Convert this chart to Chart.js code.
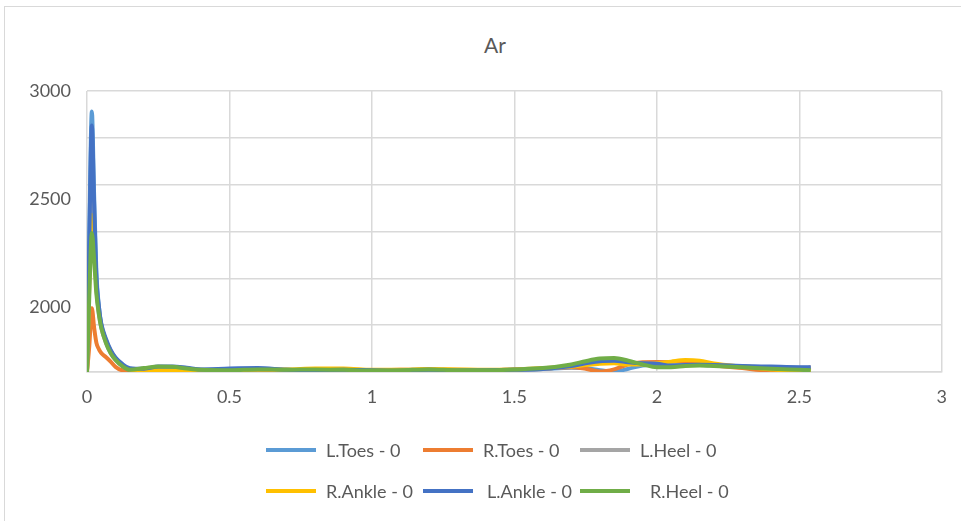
<!DOCTYPE html>
<html>
<head>
<meta charset="utf-8">
<script src="https://cdn.jsdelivr.net/npm/chart.js@4"></script>
<style>
  html, body { margin: 0; padding: 0; background: #fff; }
  #wrap { position: relative; width: 961px; height: 521px; overflow: hidden; }
  #frame { position: absolute; left: 4px; top: 6px; width: 1000px; height: 600px;
           border-left: 1px solid #d9d9d9; border-top: 1px solid #d9d9d9; }
  #chart { position: absolute; left: 0; top: 0; }
  #title { position: absolute; left: 0; width: 990px; top: 32px; text-align: center;
           font: 21px Lato, sans-serif; color: #595959; line-height: 26px; }
  .leg { position: absolute; font: 18px Lato, sans-serif; color: #595959; white-space: nowrap; }
  .leg .swatch { position: absolute; width: 50px; height: 4px; }
</style>
</head>
<body>
<div id="wrap">
  <div id="frame"></div>
  <div id="title">Ar</div>
  <canvas id="chart" width="961" height="521"></canvas>
  <div id="legend"></div>
</div>
<script>
console.log("Chart page loaded");

// time axis (seconds)
const times = [0, 0.008, 0.017, 0.025, 0.033, 0.042, 0.05, 0.067, 0.083, 0.1, 0.125, 0.15,
  0.2, 0.25, 0.3, 0.35, 0.4, 0.5, 0.6, 0.7, 0.8, 0.9, 1.0, 1.1, 1.2, 1.3, 1.4, 1.5, 1.6,
  1.7, 1.75, 1.8, 1.85, 1.9, 1.95, 2.0, 2.05, 2.1, 2.15, 2.2, 2.3, 2.4, 2.5, 2.54];

// series values
const lToes = [1700, 2350, 2905, 2520, 2160, 2000, 1920, 1845, 1795, 1760, 1730, 1715,
  1712, 1720, 1722, 1716, 1710, 1712, 1714, 1710, 1708, 1710, 1708, 1707, 1710, 1708, 1707, 1710, 1714,
  1720, 1718, 1708, 1702, 1715, 1730, 1735, 1735, 1735, 1733, 1730, 1725, 1720, 1716, 1715];
const rToes = [1700, 1820, 1995, 1905, 1835, 1805, 1788, 1768, 1748, 1724, 1707, 1703,
  1708, 1712, 1712, 1710, 1708, 1710, 1710, 1708, 1710, 1712, 1708, 1710, 1712, 1710, 1708, 1712, 1716,
  1722, 1715, 1702, 1712, 1735, 1745, 1746, 1745, 1742, 1738, 1730, 1718, 1706, 1708, 1722];
const lHeel = [1700, 2150, 2520, 2320, 2090, 1965, 1905, 1835, 1788, 1757, 1727, 1713,
  1712, 1720, 1722, 1716, 1710, 1712, 1714, 1710, 1708, 1710, 1708, 1707, 1710, 1708, 1707, 1710, 1714,
  1726, 1736, 1745, 1748, 1742, 1738, 1738, 1732, 1732, 1732, 1730, 1726, 1722, 1720, 1720];
const rAnkle = [1700, 2100, 2426, 2280, 2090, 1980, 1915, 1845, 1798, 1764, 1731, 1712,
  1705, 1708, 1706, 1704, 1708, 1710, 1712, 1712, 1716, 1716, 1710, 1710, 1714, 1712, 1710, 1712, 1718,
  1725, 1732, 1738, 1740, 1735, 1735, 1740, 1748, 1755, 1752, 1740, 1725, 1712, 1705, 1705];
const lAnkle = [1700, 2300, 2840, 2480, 2140, 2000, 1925, 1852, 1802, 1767, 1736, 1718,
  1715, 1725, 1726, 1720, 1712, 1716, 1718, 1710, 1708, 1710, 1708, 1706, 1710, 1707, 1708, 1710, 1714,
  1728, 1740, 1750, 1752, 1745, 1740, 1738, 1730, 1732, 1733, 1732, 1728, 1725, 1722, 1722];
const rHeel = [1700, 2050, 2343, 2220, 2060, 1965, 1905, 1832, 1787, 1756, 1726, 1710,
  1718, 1726, 1724, 1716, 1710, 1708, 1712, 1710, 1712, 1710, 1707, 1708, 1712, 1708, 1708, 1712, 1718,
  1735, 1750, 1762, 1765, 1752, 1735, 1722, 1722, 1728, 1730, 1728, 1722, 1715, 1710, 1708];

const seriesNames = ['L.Toes - 0', 'R.Toes - 0', 'L.Heel - 0', 'R.Ankle - 0', 'L.Ankle - 0', 'R.Heel - 0'];
const seriesColors = ['#5B9BD5', '#ED7D31', '#A5A5A5', '#FFC000', '#4472C4', '#70AD47'];
const seriesValues = [lToes, rToes, lHeel, rAnkle, lAnkle, rHeel];

// axis settings
const yMin = 1700;
const yMax = 3000;
const yLabels = [2000, 2500, 3000];
const yGridCount = 6;
const xTicks = [0, 0.5, 1, 1.5, 2, 2.5, 3];

const yGrid = [];
for (let i = 0; i <= yGridCount; i++) yGrid.push(yMin + (yMax - yMin) * i / yGridCount);
const isGrid = v => yGrid.some(g => Math.abs(g - v) < 0.01);
const isLabel = v => yLabels.includes(v);

const datasets = seriesNames.map((name, i) => ({
  label: name,
  data: times.map((t, j) => ({ x: t, y: seriesValues[i][j] })),
  borderColor: seriesColors[i],
  backgroundColor: seriesColors[i],
  borderWidth: 4,
  pointRadius: 0,
  cubicInterpolationMode: 'monotone',
  order: seriesNames.length - i   // later series drawn on top
}));

Chart.defaults.font.family = 'Lato, sans-serif';
Chart.defaults.color = '#595959';

new Chart(document.getElementById('chart').getContext('2d'), {
  type: 'line',
  data: { datasets },
  options: {
    responsive: false,
    animation: false,
    layout: { padding: { left: 0, right: 18, top: 91, bottom: 100 } },
    plugins: {
      legend: { display: false },
      tooltip: { enabled: false },
      title: { display: false }
    },
    scales: {
      x: {
        type: 'linear', min: 0, max: 3,
        afterBuildTicks: axis => { axis.ticks = xTicks.map(v => ({ value: v })); },
        afterFit: axis => { axis.height = 49; },
        grid: { color: '#d9d9d9', lineWidth: 1.5, drawTicks: false },
        border: { color: '#d9d9d9', width: 1.5 },
        ticks: { padding: 14, font: { size: 18 }, color: '#595959', callback: v => String(v) }
      },
      y: {
        min: yMin, max: yMax,
        afterBuildTicks: axis => {
          const vals = [...new Set(yGrid.concat(yLabels))].sort((a, b) => a - b);
          axis.ticks = vals.map(v => ({ value: v }));
        },
        afterFit: axis => { axis.width = 87; },
        grid: { color: c => isGrid(c.tick.value) ? '#d9d9d9' : 'rgba(0,0,0,0)', lineWidth: 1.5, drawTicks: false },
        border: { display: false },
        ticks: { padding: 16, font: { size: 18 }, color: '#595959',
                 callback: v => isLabel(v) ? String(v) : '' }
      }
    }
  }
});

// legend in two rows of three, like the original
const legend = document.getElementById('legend');
const swatchLeft = [266, 423, 580, 266, 423, 580];
const textLeft = [326, 483, 640, 326, 487, 650];
const rowTop = [450, 491];
seriesNames.forEach((name, i) => {
  const row = Math.floor(i / 3);
  const sw = document.createElement('div');
  sw.className = 'leg';
  sw.innerHTML = '<div class="swatch" style="background:' + seriesColors[i] + ';left:0;top:-2px"></div>';
  sw.style.left = swatchLeft[i] + 'px';
  sw.style.top = rowTop[row] + 'px';
  legend.appendChild(sw);
  const tx = document.createElement('div');
  tx.className = 'leg';
  tx.textContent = name;
  tx.style.left = textLeft[i] + 'px';
  tx.style.top = (rowTop[row] - 11) + 'px';
  tx.style.lineHeight = '22px';
  legend.appendChild(tx);
});
</script>
</body>
</html>
